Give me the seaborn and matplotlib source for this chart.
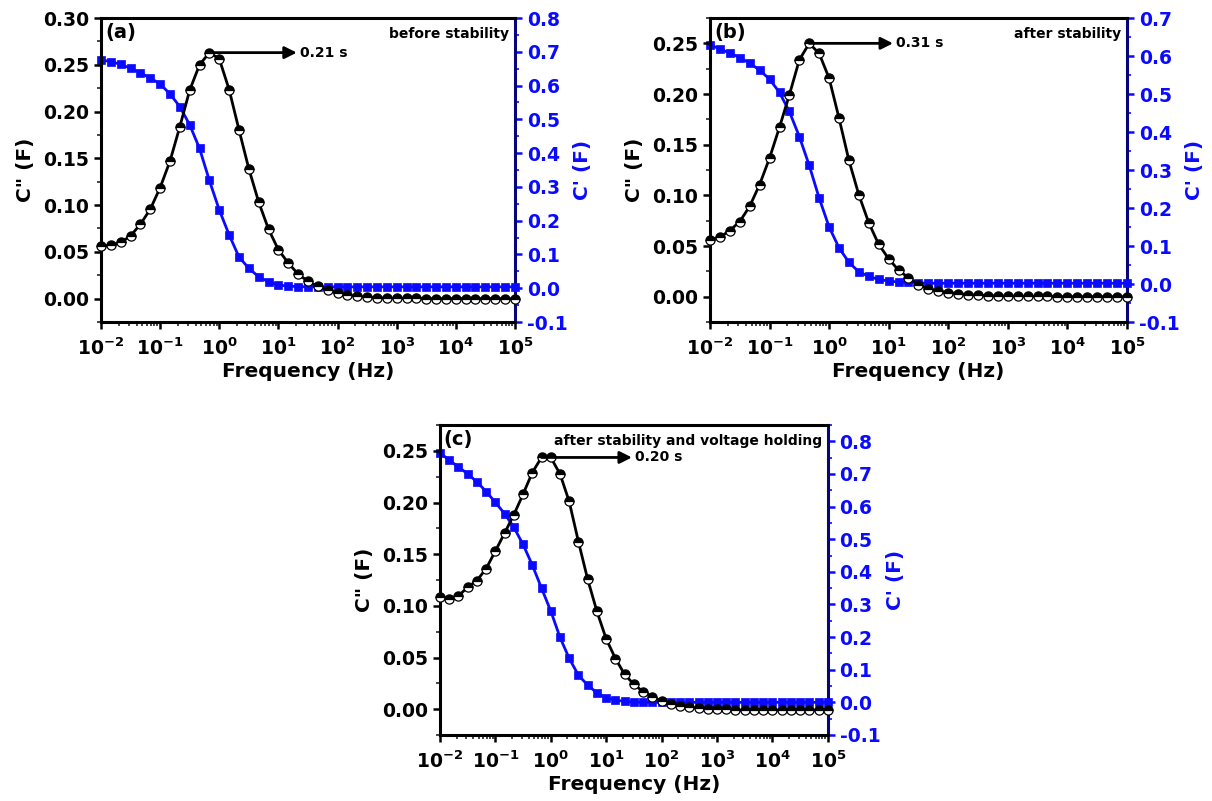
import numpy as np
import matplotlib
matplotlib.use('Agg')
import matplotlib.pyplot as plt
import seaborn as sns
from matplotlib.ticker import FixedLocator, MultipleLocator, LogLocator, NullFormatter, FixedFormatter

# ---------------- data ----------------
freq = [0.01, 0.0147, 0.0215, 0.0316, 0.0464, 0.0681,
        0.1, 0.147, 0.215, 0.316, 0.464, 0.681,
        1.0, 1.47, 2.15, 3.16, 4.64, 6.81,
        10.0, 14.7, 21.5, 31.6, 46.4, 68.1,
        100.0, 147.0, 215.0, 316.0, 464.0, 681.0,
        1000.0, 1470.0, 2150.0, 3160.0, 4640.0, 6810.0,
        10000.0, 14700.0, 21500.0, 31600.0, 46400.0, 68100.0,
        100000.0]

a_cpp = [0.0558, 0.0572, 0.060, 0.067, 0.0795, 0.0955, 0.1186, 0.147, 0.1836, 0.2227,
         0.250, 0.263, 0.2564, 0.2234, 0.1808, 0.1389, 0.1033, 0.0742, 0.0522, 0.038,
         0.0263, 0.0185, 0.013, 0.009, 0.006, 0.004, 0.0025, 0.0015, 0.001, 0.0006,
         0.0004, 0.0003, 0.0002, 0.0001, 0.0, 0.0, 0.0, 0.0, 0.0, 0.0, 0.0, 0.0, 0.0]
a_cp = [0.676, 0.671, 0.663, 0.651, 0.638, 0.622, 0.605, 0.575, 0.538, 0.484,
        0.414, 0.319, 0.232, 0.158, 0.093, 0.059, 0.034, 0.019, 0.0096, 0.006,
        0.005, 0.004, 0.004, 0.004, 0.004, 0.004, 0.004, 0.004, 0.004, 0.004,
        0.004, 0.004, 0.004, 0.004, 0.004, 0.004, 0.004, 0.004, 0.004, 0.004,
        0.004, 0.004, 0.004]

b_cpp = [0.0564, 0.0587, 0.0653, 0.0741, 0.0892, 0.1106, 0.1368, 0.1673, 0.1991, 0.2336,
         0.250, 0.240, 0.2156, 0.176, 0.1345, 0.1004, 0.0728, 0.0515, 0.0374, 0.026,
         0.0187, 0.0120, 0.0079, 0.0055, 0.004, 0.003, 0.002, 0.0015, 0.001, 0.0008,
         0.0006, 0.0005, 0.0004, 0.0003, 0.0002, 0.0001, 0.0, 0.0, 0.0, 0.0, 0.0, 0.0, 0.0]
b_cp = [0.630, 0.618, 0.608, 0.596, 0.581, 0.563, 0.539, 0.504, 0.454, 0.388,
        0.312, 0.226, 0.150, 0.095, 0.057, 0.032, 0.020, 0.012, 0.008, 0.005,
        0.004, 0.003, 0.002, 0.002, 0.002, 0.002, 0.002, 0.002, 0.002, 0.002,
        0.002, 0.002, 0.002, 0.002, 0.002, 0.002, 0.002, 0.002, 0.002, 0.002,
        0.002, 0.002, 0.002]

c_cpp = [0.109, 0.1064, 0.1096, 0.118, 0.1244, 0.136, 0.153, 0.1705, 0.188, 0.208,
         0.229, 0.2436, 0.2436, 0.2276, 0.201, 0.162, 0.1256, 0.0946, 0.068, 0.049,
         0.0337, 0.024, 0.017, 0.012, 0.008, 0.005, 0.003, 0.0018, 0.001, 0.0005,
         0.0002, 0.0, -0.001, -0.001, -0.001, -0.001, -0.001, -0.001, -0.001, -0.001,
         -0.001, -0.001, -0.001]
c_cp = [0.765, 0.742, 0.722, 0.700, 0.676, 0.646, 0.613, 0.578, 0.537, 0.484,
        0.421, 0.350, 0.280, 0.199, 0.135, 0.083, 0.053, 0.029, 0.014, 0.007,
        0.003, 0.001, 0.0, 0.0, 0.0, 0.0, 0.0, 0.0, 0.0, 0.0,
        0.0, 0.0, 0.0, 0.0, 0.0, 0.0, 0.0, 0.0, 0.0, 0.0,
        0.0, 0.0, 0.0]

xtick_vals = [1e-2, 1e-1, 1e0, 1e1, 1e2, 1e3, 1e4, 1e5]
xtick_labels = [r'$\mathbf{10^{-2}}$', r'$\mathbf{10^{-1}}$', r'$\mathbf{10^{0}}$', r'$\mathbf{10^{1}}$',
                r'$\mathbf{10^{2}}$', r'$\mathbf{10^{3}}$', r'$\mathbf{10^{4}}$', r'$\mathbf{10^{5}}$']

left_ticks_a = [0.00, 0.05, 0.10, 0.15, 0.20, 0.25, 0.30]
left_labels_a = ['0.00', '0.05', '0.10', '0.15', '0.20', '0.25', '0.30']
left_ticks_bc = [0.00, 0.05, 0.10, 0.15, 0.20, 0.25]
left_labels_bc = ['0.00', '0.05', '0.10', '0.15', '0.20', '0.25']
right_ticks_ac = [-0.1, 0.0, 0.1, 0.2, 0.3, 0.4, 0.5, 0.6, 0.7, 0.8]
right_labels_ac = ['-0.1', '0.0', '0.1', '0.2', '0.3', '0.4', '0.5', '0.6', '0.7', '0.8']
right_ticks_b = [-0.1, 0.0, 0.1, 0.2, 0.3, 0.4, 0.5, 0.6, 0.7]
right_labels_b = ['-0.1', '0.0', '0.1', '0.2', '0.3', '0.4', '0.5', '0.6', '0.7']

panel_letters = ['(a)', '(b)', '(c)']
panel_notes = ['before stability', 'after stability', 'after stability and voltage holding']
tau_labels = ['0.21 s', '0.31 s', '0.20 s']

# ---------------- style ----------------
sns.set_theme(style='white')
plt.rcParams['font.family'] = ['DejaVu Sans']
plt.rcParams['font.weight'] = 'bold'
plt.rcParams['axes.labelweight'] = 'bold'
plt.rcParams['text.color'] = 'black'
plt.rcParams['axes.labelcolor'] = 'black'
plt.rcParams['mathtext.fontset'] = 'dejavusans'

BLUE = '#0a0aff'
NAVY = '#06067a'
TICK_FS = 13.5
LABEL_FS = 14.5

fig = plt.figure(figsize=(12.12, 8.01), dpi=100)
fig.patch.set_facecolor('white')

rects = [[0.0833, 0.598, 0.3416, 0.3795],
         [0.5858, 0.598, 0.3440, 0.3795],
         [0.3630, 0.0824, 0.3200, 0.3870]]


def draw_panel(rect, cpp, cp, lylim, lticks, llabels, rylim, rticks, rlabels,
               letter, note, tau, tip_frac):
    ax = fig.add_axes(rect)
    ax2 = ax.twinx()
    ax.set_xscale('log')
    sns.lineplot(x=freq, y=cpp, ax=ax, color='black', lw=2.0, marker='o',
                 markersize=6.6, fillstyle='top', markerfacecolor='black',
                 markerfacecoloralt='white', markeredgecolor='black',
                 markeredgewidth=0.9, clip_on=False, zorder=3)
    sns.lineplot(x=freq, y=cp, ax=ax2, color=BLUE, lw=2.0, marker='s',
                 markersize=6.2, markerfacecolor=BLUE, markeredgecolor=BLUE,
                 markeredgewidth=0.5, clip_on=False, zorder=3)
    ax.set_xlim(1e-2, 1e5)
    ax2.set_xlim(1e-2, 1e5)
    ax.set_ylim(*lylim)
    ax2.set_ylim(*rylim)

    ax.xaxis.set_major_locator(FixedLocator(xtick_vals))
    ax.xaxis.set_major_formatter(FixedFormatter(xtick_labels))
    ax.xaxis.set_minor_locator(LogLocator(base=10, subs=np.arange(2, 10), numticks=20))
    ax.xaxis.set_minor_formatter(NullFormatter())
    ax.yaxis.set_major_locator(FixedLocator(lticks))
    ax.yaxis.set_major_formatter(FixedFormatter(llabels))
    ax.yaxis.set_minor_locator(MultipleLocator(0.025))
    ax2.yaxis.set_major_locator(FixedLocator(rticks))
    ax2.yaxis.set_major_formatter(FixedFormatter(rlabels))
    ax2.yaxis.set_minor_locator(MultipleLocator(0.05))

    ax.tick_params(axis='both', which='major', direction='out', length=5, width=1.8,
                   labelsize=TICK_FS, colors='black', bottom=True, left=True)
    ax.tick_params(axis='x', which='major', pad=6)
    ax.tick_params(axis='both', which='minor', direction='out', length=3, width=1.2,
                   bottom=True, left=True)
    ax2.tick_params(axis='y', which='major', direction='out', length=5, width=1.8,
                    labelsize=TICK_FS, colors=BLUE, right=True)
    ax2.tick_params(axis='y', which='minor', direction='out', length=3, width=1.2,
                    colors=BLUE, right=True)
    for lab in ax.get_yticklabels() + ax2.get_yticklabels():
        lab.set_fontweight('bold')

    for sp in ['left', 'top', 'bottom']:
        ax.spines[sp].set_linewidth(2.2)
        ax.spines[sp].set_color('black')
        ax2.spines[sp].set_visible(False)
    ax.spines['right'].set_visible(False)
    ax2.spines['right'].set_linewidth(2.2)
    ax2.spines['right'].set_color(NAVY)

    ax.set_xlabel('Frequency (Hz)', fontsize=LABEL_FS, fontweight='bold', labelpad=2)
    ax.set_ylabel('C" (F)', fontsize=LABEL_FS, fontweight='bold', labelpad=6)
    ax2.set_ylabel("C' (F)", fontsize=LABEL_FS, fontweight='bold', color=BLUE, labelpad=4)
    ax.grid(False)
    ax2.grid(False)

    ax.text(0.01, 0.985, letter, transform=ax.transAxes, ha='left', va='top',
            fontsize=14, fontweight='bold', color='black')
    ax.text(0.985, 0.972, note, transform=ax.transAxes, ha='right', va='top',
            fontsize=10, fontweight='bold', color='black')

    ipk = int(np.argmax(cpp))
    xpk, ypk = freq[ipk], cpp[ipk]
    trans = matplotlib.transforms.blended_transform_factory(ax.transAxes, ax.transData)
    x0 = ax.transAxes.inverted().transform(ax.transData.transform((xpk, ypk)))[0]
    ax.annotate('', xy=(tip_frac, ypk), xytext=(x0, ypk), xycoords=trans,
                textcoords=trans,
                arrowprops=dict(arrowstyle='-|>', color='black', lw=2.0,
                                mutation_scale=18, shrinkA=0, shrinkB=0), zorder=5)
    ax.text(tip_frac + 0.008, ypk, tau, transform=trans, ha='left', va='center',
            fontsize=10, fontweight='bold', color='black')
    ax.set_zorder(ax2.get_zorder() + 1)
    ax.patch.set_visible(False)
    return ax, ax2


draw_panel(rects[0], a_cpp, a_cp, (-0.025, 0.30), left_ticks_a, left_labels_a,
           (-0.1, 0.8), right_ticks_ac, right_labels_ac,
           panel_letters[0], panel_notes[0], tau_labels[0], 0.473)
draw_panel(rects[1], b_cpp, b_cp, (-0.025, 0.275), left_ticks_bc, left_labels_bc,
           (-0.1, 0.7), right_ticks_b, right_labels_b,
           panel_letters[1], panel_notes[1], tau_labels[1], 0.439)
draw_panel(rects[2], c_cpp, c_cp, (-0.025, 0.275), left_ticks_bc, left_labels_bc,
           (-0.1, 0.85), right_ticks_ac, right_labels_ac,
           panel_letters[2], panel_notes[2], tau_labels[2], 0.495)

fig.savefig('out.png', dpi=100, facecolor='white')
